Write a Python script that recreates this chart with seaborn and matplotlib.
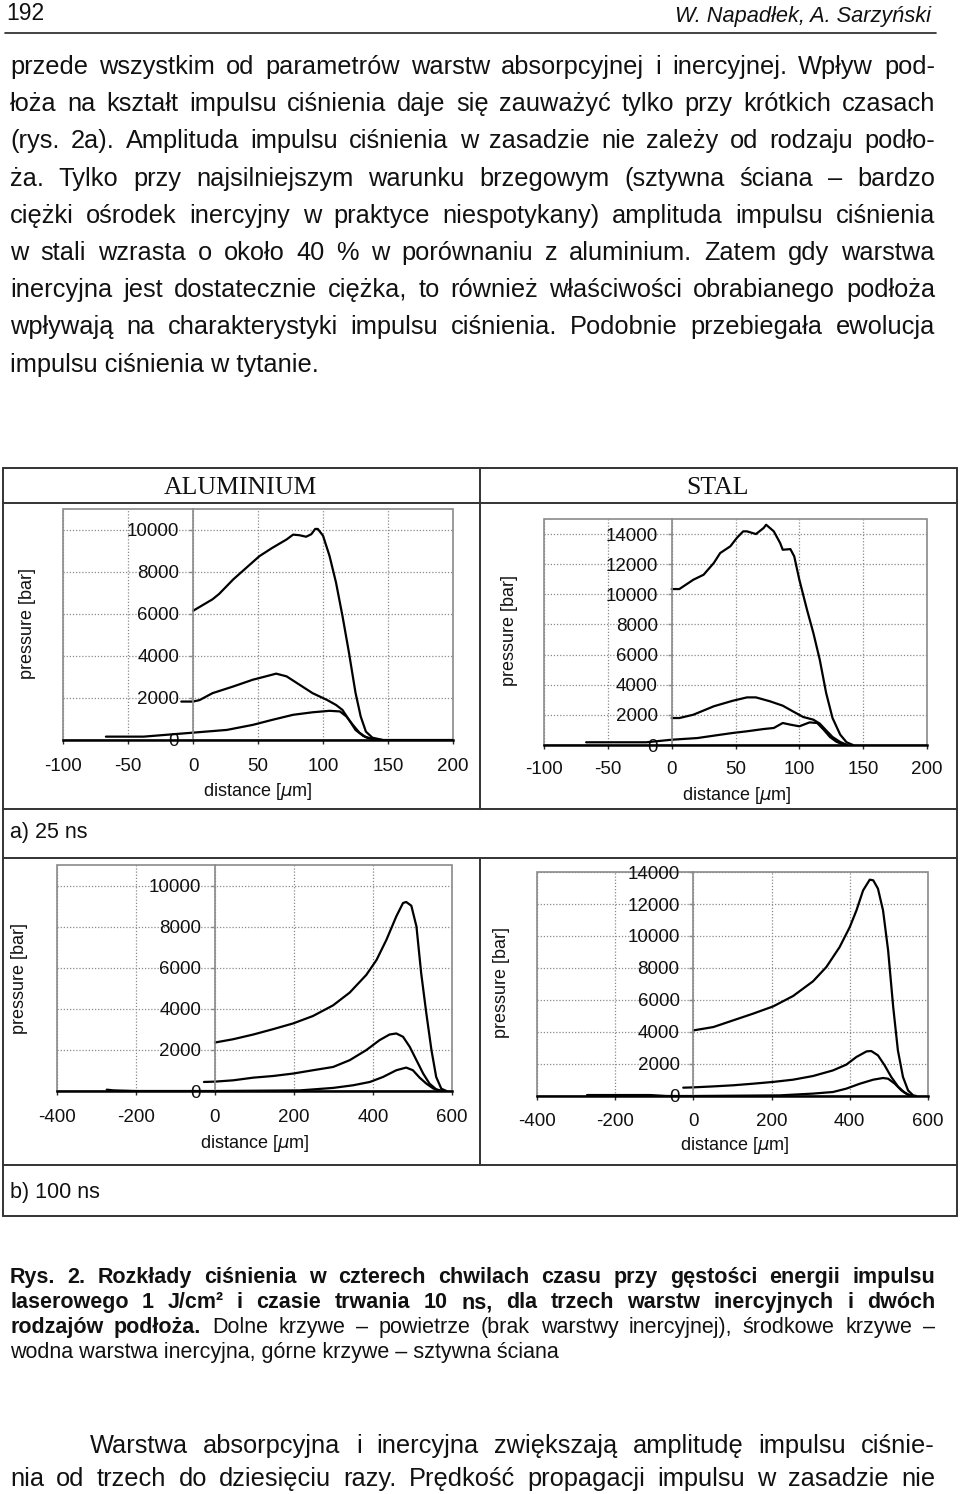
import matplotlib
matplotlib.use("Agg")
import matplotlib.pyplot as plt
from matplotlib.lines import Line2D
import pandas as pd
import seaborn as sns

W, H = 960, 1494

# ---- data (distance in um, pressure in bar) ----
layers = ["powietrze", "woda", "sztywna sciana"]

# a) 25 ns, aluminium
al25_air_x = [-67, -38, 0, 26, 46, 61, 77, 92, 105, 113, 118, 123, 128, 133, 141]
al25_air_p = [160, 160, 350, 480, 720, 960, 1200, 1320, 1390, 1360, 1120, 720, 350, 130, 0]
al25_water_x = [-9, 0, 5, 15, 31, 46, 56, 64, 72, 82, 92, 103, 110, 115, 120, 125, 131, 138, 146]
al25_water_p = [1830, 1830, 1900, 2230, 2550, 2870, 3030, 3160, 3030, 2630, 2230, 1910, 1670, 1430, 960, 480, 190, 30, 0]
al25_wall_x = [0, 15, 20, 31, 41, 51, 61, 72, 77, 82, 87, 91, 94, 96, 100, 105, 110, 115, 120, 125, 129, 133, 138, 146, 200]
al25_wall_p = [6150, 6700, 6950, 7650, 8200, 8750, 9150, 9550, 9780, 9750, 9680, 9800, 10050, 10050, 9730, 8770, 7500, 5900, 4150, 2250, 1120, 400, 110, 0, 0]

# a) 25 ns, stal
st25_air_x = [-67, -20, 0, 20, 33, 48, 59, 72, 80, 87, 93, 100, 108, 114, 119, 124, 129, 134, 137]
st25_air_p = [180, 180, 350, 460, 620, 800, 910, 1060, 1130, 1460, 1350, 1240, 1500, 1460, 1020, 530, 220, 40, 0]
st25_water_x = [0, 6, 17, 33, 48, 59, 66, 77, 87, 95, 103, 111, 116, 121, 126, 132, 137]
st25_water_p = [1790, 1790, 2010, 2570, 2940, 3160, 3160, 2900, 2610, 2230, 1860, 1680, 1420, 970, 530, 200, 20]
st25_wall_x = [0, 6, 17, 25, 33, 38, 46, 51, 56, 59, 66, 72, 74, 80, 85, 87, 93, 96, 100, 106, 111, 116, 121, 126, 132, 137, 142]
st25_wall_p = [10350, 10350, 10970, 11300, 12080, 12740, 13190, 13740, 14180, 14180, 14000, 14400, 14620, 14180, 13400, 12960, 13000, 12520, 10970, 8980, 7430, 5660, 3450, 1790, 690, 180, 0]

# b) 100 ns, aluminium
al100_air_x = [-274, -257, -200, 0, 215, 299, 350, 392, 425, 459, 484, 501, 518, 535, 552, 569]
al100_air_p = [65, 30, 0, 0, 30, 150, 280, 440, 680, 1010, 1140, 1010, 650, 360, 130, 0]
al100_water_x = [-28, 0, 46, 97, 147, 198, 248, 299, 341, 383, 417, 442, 459, 476, 493, 510, 527, 543, 560, 577]
al100_water_p = [440, 456, 520, 650, 730, 850, 1010, 1170, 1500, 1990, 2480, 2750, 2800, 2640, 2150, 1500, 850, 360, 80, 0]
al100_wall_x = [0, 46, 97, 147, 198, 248, 299, 341, 383, 409, 434, 459, 476, 484, 497, 510, 522, 535, 548, 560, 573, 586]
al100_wall_p = [2360, 2520, 2750, 3010, 3290, 3650, 4170, 4790, 5650, 6380, 7360, 8500, 9150, 9200, 9020, 8010, 5730, 3780, 1990, 680, 110, 0]

# b) 100 ns, stal
st100_air_x = [-272, -111, -68, 0, 221, 306, 357, 391, 426, 460, 485, 498, 515, 532, 549, 562]
st100_air_p = [60, 60, 0, 0, 40, 150, 250, 460, 770, 1020, 1125, 1080, 770, 350, 80, 0]
st100_water_x = [-26, 0, 51, 102, 153, 204, 255, 306, 357, 391, 417, 443, 455, 472, 489, 506, 523, 540, 557]
st100_water_p = [520, 540, 600, 670, 770, 880, 1020, 1250, 1600, 1960, 2440, 2790, 2810, 2540, 1920, 1190, 600, 210, 0]
st100_wall_x = [0, 51, 102, 153, 204, 255, 306, 340, 374, 400, 417, 434, 451, 460, 472, 485, 498, 511, 523, 536, 549, 562, 570]
st100_wall_p = [4100, 4310, 4730, 5150, 5600, 6250, 7170, 8060, 9310, 10560, 11600, 12850, 13520, 13480, 12960, 11600, 9100, 5560, 2850, 1190, 350, 40, 0]

# ---- page text ----
body_lines = [
    "przede wszystkim od parametrów warstw absorpcyjnej i inercyjnej. Wpływ pod-",
    "łoża na kształt impulsu ciśnienia daje się zauważyć tylko przy krótkich czasach",
    "(rys. 2a). Amplituda impulsu ciśnienia w zasadzie nie zależy od rodzaju podło-",
    "ża. Tylko przy najsilniejszym warunku brzegowym (sztywna ściana – bardzo",
    "ciężki ośrodek inercyjny w praktyce niespotykany) amplituda impulsu ciśnienia",
    "w stali wzrasta o około 40 % w porównaniu z aluminium. Zatem gdy warstwa",
    "inercyjna jest dostatecznie ciężka, to również właściwości obrabianego podłoża",
    "wpływają na charakterystyki impulsu ciśnienia. Podobnie przebiegała ewolucja",
    "impulsu ciśnienia w tytanie.",
]
caption_bold = [
    "Rys. 2. Rozkłady ciśnienia w czterech chwilach czasu przy gęstości energii impulsu",
    "laserowego 1 J/cm² i czasie trwania 10 ns, dla trzech warstw inercyjnych i dwóch",
    "rodzajów podłoża.",
]
caption_regular = [
    "Dolne krzywe – powietrze (brak warstwy inercyjnej), środkowe krzywe –",
    "wodna warstwa inercyjna, górne krzywe – sztywna ściana",
]
bottom_lines = [
    "Warstwa absorpcyjna i inercyjna zwiększają amplitudę impulsu ciśnie-",
    "nia od trzech do dziesięciu razy. Prędkość propagacji impulsu w zasadzie nie",
]

sns.set_style("white")
plt.rcParams["font.family"] = ["Liberation Sans", "DejaVu Sans"]
plt.rcParams["axes.unicode_minus"] = False
INK = "#111111"

fig = plt.figure(figsize=(W / 100, H / 100), dpi=100)
renderer = fig.canvas.get_renderer()


def fx(px):
    return px / W


def fy(py):
    return 1 - py / H


def put(x, y, s, size, **kw):
    return fig.text(fx(x), fy(y), s, fontsize=size, color=INK, va="baseline", **kw)


def justify(words, x0, x1, y, size):
    # words: list of (word, weight); spread them so the line fills x0..x1
    texts = [put(0, y, w, size, weight=wt) for w, wt in words]
    widths = [t.get_window_extent(renderer).width for t in texts]
    gap = (x1 - x0 - sum(widths)) / (len(texts) - 1)
    x = x0
    for t, w in zip(texts, widths):
        t.set_x(fx(x))
        x += w + gap


def hline(x0, x1, y, **kw):
    fig.add_artist(Line2D([fx(x0), fx(x1)], [fy(y), fy(y)], transform=fig.transFigure, **kw))


def vline(x, y0, y1, **kw):
    fig.add_artist(Line2D([fx(x), fx(x)], [fy(y0), fy(y1)], transform=fig.transFigure, **kw))


# header
put(6, 20, "192", 16.5)
put(931, 22, "W. Napadłek, A. Sarzyński", 15.7, style="italic", ha="right")
hline(5, 936, 33, color="#222222", lw=1.2)

# body paragraph
BODY = 18.3
for i, line in enumerate(body_lines):
    y = 74 + i * 37.2
    if i < len(body_lines) - 1:
        justify([(w, "normal") for w in line.split()], 10, 935, y, BODY)
    else:
        put(10, y, line, BODY)

# table frame
tl = dict(color="#333333", lw=1.4)
hline(3, 957, 468, **tl)
hline(3, 957, 503, **tl)
hline(3, 957, 809, **tl)
hline(3, 957, 858, **tl)
hline(3, 957, 1165, **tl)
hline(3, 957, 1216, **tl)
vline(3, 468, 1216, **tl)
vline(957, 468, 1216, **tl)
vline(480, 468, 809, **tl)
vline(480, 858, 1165, **tl)

fig.text(fx(240), fy(488), "ALUMINIUM", fontsize=18.5, family="Liberation Serif",
         color=INK, ha="center", va="center")
fig.text(fx(718), fy(488), "STAL", fontsize=18.5, family="Liberation Serif",
         color=INK, ha="center", va="center")
put(10, 838, "a) 25 ns", 15.5)
put(10, 1198, "b) 100 ns", 15.5)


def frame(curves):
    rows = []
    for name, (xs, ps) in zip(layers, curves):
        rows += [(x, p, name) for x, p in zip(xs, ps)]
    return pd.DataFrame(rows, columns=["distance", "pressure", "layer"])


panels = [
    dict(box=(63, 453, 509, 740), xlim=(-100, 200), xstep=50, ylim=(0, 11000), ytop=10000,
         ylab=(28, 624), xlab=(258, 792), xtick_y=767,
         df=frame([(al25_air_x, al25_air_p), (al25_water_x, al25_water_p), (al25_wall_x, al25_wall_p)])),
    dict(box=(544, 927, 519, 745), xlim=(-100, 200), xstep=50, ylim=(0, 15000), ytop=14000,
         ylab=(509, 630), xlab=(737, 795), xtick_y=770,
         df=frame([(st25_air_x, st25_air_p), (st25_water_x, st25_water_p), (st25_wall_x, st25_wall_p)])),
    dict(box=(57, 452, 865, 1091), xlim=(-400, 600), xstep=200, ylim=(0, 11000), ytop=10000,
         ylab=(20, 978), xlab=(255, 1143), xtick_y=1118,
         df=frame([(al100_air_x, al100_air_p), (al100_water_x, al100_water_p), (al100_wall_x, al100_wall_p)])),
    dict(box=(537, 928, 872, 1096), xlim=(-400, 600), xstep=200, ylim=(0, 14000), ytop=14000,
         ylab=(502, 983), xlab=(735, 1146), xtick_y=1122,
         df=frame([(st100_air_x, st100_air_p), (st100_water_x, st100_water_p), (st100_wall_x, st100_wall_p)])),
]

GRID = "#8a8a8a"
for pnl in panels:
    l, r, t, b = pnl["box"]
    ax = fig.add_axes([fx(l), fy(b), (r - l) / W, (b - t) / H])
    ax.set_xlim(*pnl["xlim"])
    ax.set_ylim(*pnl["ylim"])
    ax.set_xticks(range(pnl["xlim"][0], pnl["xlim"][1] + 1, pnl["xstep"]))
    ax.set_yticks(range(0, pnl["ytop"] + 1, 2000))
    ax.grid(True, ls=(0, (1, 1.5)), color=GRID, lw=0.9)

    sns.lineplot(data=pnl["df"], x="distance", y="pressure", units="layer", estimator=None,
                 sort=False, color="black", lw=1.6, ax=ax, legend=False)

    ax.patch.set_edgecolor(GRID)
    ax.patch.set_linewidth(1.2)
    for s in ("top", "right"):
        ax.spines[s].set_visible(False)
    ax.spines["left"].set_position(("data", 0))
    ax.spines["left"].set_color(GRID)
    ax.spines["left"].set_linewidth(1.2)
    ax.spines["bottom"].set_color("black")
    ax.spines["bottom"].set_linewidth(1.8)
    ax.spines["bottom"].set_zorder(3)

    pad_x = (pnl["xtick_y"] - b - 3 - 10) / 1.389
    ax.tick_params(axis="x", direction="out", length=3, width=1, pad=pad_x,
                   labelsize=13.5, labelcolor=INK, bottom=True)
    ax.tick_params(axis="y", direction="out", length=3, width=1, color=GRID, pad=7,
                   labelsize=13.5, labelcolor=INK, left=True)

    ax.set_xlabel("distance [$\\mu$m]", fontsize=13, color=INK, va="center")
    ax.set_ylabel("pressure [bar]", fontsize=13, color=INK, va="center")
    ax.xaxis.set_label_coords((pnl["xlab"][0] - l) / (r - l), (b - pnl["xlab"][1]) / (b - t))
    ax.yaxis.set_label_coords((pnl["ylab"][0] - l) / (r - l), (b - pnl["ylab"][1]) / (b - t))

# caption
CAP = 15.5
justify([(w, "bold") for w in caption_bold[0].split()], 10, 935, 1283, CAP)
justify([(w, "bold") for w in caption_bold[1].split()], 10, 935, 1308, CAP)
justify([(w, "bold") for w in caption_bold[2].split()] +
        [(w, "normal") for w in caption_regular[0].split()], 10, 935, 1333, CAP)
put(10, 1358, caption_regular[1], CAP)

# closing paragraph
justify([(w, "normal") for w in bottom_lines[0].split()], 90, 935, 1453, BODY)
justify([(w, "normal") for w in bottom_lines[1].split()], 10, 935, 1486, BODY)

fig.savefig("out.png", dpi=100, facecolor="white")
